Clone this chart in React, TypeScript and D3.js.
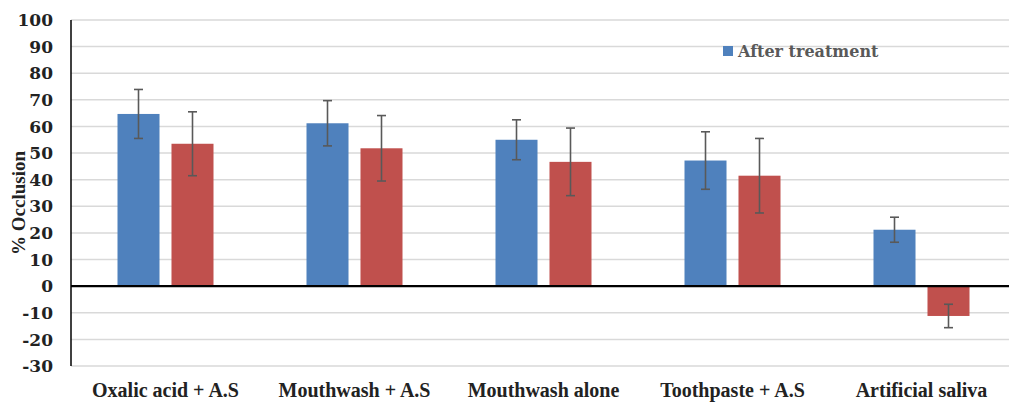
import React, { useEffect, useRef } from "react";
import * as d3 from "d3";

const categories = [
  "Oxalic acid + A.S",
  "Mouthwash + A.S",
  "Mouthwash alone",
  "Toothpaste + A.S",
  "Artificial saliva",
];
const afterValues = [64.7, 61.2, 55.0, 47.2, 21.2];
const afterErrors = [9.2, 8.5, 7.5, 10.8, 4.7];
const secondValues = [53.5, 51.8, 46.7, 41.5, -11.2];
const secondErrors = [12.0, 12.3, 12.7, 14.0, 4.4];
const yTicks = [-30, -20, -10, 0, 10, 20, 30, 40, 50, 60, 70, 80, 90, 100];

const App = () => {
  const ref = useRef(null);

  useEffect(() => {
    const width = 1009;
    const height = 403;
    const left = 71;
    const right = 1016;
    const top = 20;
    const bottom = 366;

    d3.select(ref.current).select("svg").remove();
    const svg = d3
      .select(ref.current)
      .append("svg")
      .attr("width", width)
      .attr("height", height)
      .style("display", "block");

    const y = d3.scaleLinear().domain([-30, 100]).range([bottom, top]);
    const x0 = d3.scaleBand().domain(categories).range([left, right]);
    const x1 = d3
      .scaleBand()
      .domain(["after", "other"])
      .range([0, 96])
      .paddingInner(0.222);

    // gridlines
    svg
      .append("g")
      .selectAll("line")
      .data(yTicks)
      .enter()
      .append("line")
      .attr("x1", left)
      .attr("x2", width)
      .attr("y1", (d) => y(d))
      .attr("y2", (d) => y(d))
      .attr("stroke", "#d9d9d9")
      .attr("stroke-width", 1.5);

    // tick labels
    svg
      .append("g")
      .selectAll("text")
      .data(yTicks)
      .enter()
      .append("text")
      .attr("x", 53)
      .attr("y", (d) => y(d))
      .attr("dy", "0.36em")
      .attr("text-anchor", "end")
      .style("font-family", "'DejaVu Serif'")
      .style("font-weight", "bold")
      .style("font-size", "17px")
      .attr("fill", "#222")
      .text((d) => d);

    const series = [
      { key: "after", values: afterValues, errors: afterErrors, color: "#4f81bd" },
      { key: "other", values: secondValues, errors: secondErrors, color: "#c0504d" },
    ];

    series.forEach((s) => {
      const g = svg.append("g");
      const bx = (i) => x0(categories[i]) + (x0.bandwidth() - 96) / 2 + x1(s.key);
      g.selectAll("rect")
        .data(s.values)
        .enter()
        .append("rect")
        .attr("x", (d, i) => bx(i))
        .attr("width", x1.bandwidth())
        .attr("y", (d) => y(Math.max(0, d)))
        .attr("height", (d) => Math.abs(y(d) - y(0)))
        .attr("fill", s.color);

      // error bars
      const eb = g
        .selectAll("g.err")
        .data(s.values)
        .enter()
        .append("g")
        .attr("stroke", "#595959")
        .attr("stroke-width", 1.6);
      eb.append("line")
        .attr("x1", (d, i) => bx(i) + x1.bandwidth() / 2)
        .attr("x2", (d, i) => bx(i) + x1.bandwidth() / 2)
        .attr("y1", (d, i) => y(d + s.errors[i]))
        .attr("y2", (d, i) => y(d - s.errors[i]));
      [1, -1].forEach((sign) => {
        eb.append("line")
          .attr("x1", (d, i) => bx(i) + x1.bandwidth() / 2 - 4.5)
          .attr("x2", (d, i) => bx(i) + x1.bandwidth() / 2 + 4.5)
          .attr("y1", (d, i) => y(d + sign * s.errors[i]))
          .attr("y2", (d, i) => y(d + sign * s.errors[i]));
      });
    });

    // zero line and y axis
    svg
      .append("line")
      .attr("x1", left)
      .attr("x2", width)
      .attr("y1", y(0))
      .attr("y2", y(0))
      .attr("stroke", "#000")
      .attr("stroke-width", 2.2);
    svg
      .append("line")
      .attr("x1", left)
      .attr("x2", left)
      .attr("y1", top)
      .attr("y2", bottom)
      .attr("stroke", "#000")
      .attr("stroke-width", 1.5);

    // category labels
    svg
      .append("g")
      .selectAll("text")
      .data(categories)
      .enter()
      .append("text")
      .attr("x", (d) => x0(d) + x0.bandwidth() / 2)
      .attr("y", 397)
      .attr("text-anchor", "middle")
      .style("font-family", "'Liberation Serif'")
      .style("font-weight", "bold")
      .style("font-size", "20px")
      .attr("fill", "#222")
      .text((d) => d);

    // y title
    svg
      .append("text")
      .attr("transform", "translate(25,203) rotate(-90)")
      .attr("text-anchor", "middle")
      .style("font-family", "'Liberation Serif'")
      .style("font-weight", "bold")
      .style("font-size", "19px")
      .attr("fill", "#222")
      .text("% Occlusion");

    // legend
    svg
      .append("rect")
      .attr("x", 723)
      .attr("y", 46)
      .attr("width", 10)
      .attr("height", 10)
      .attr("fill", "#4f81bd");
    svg
      .append("text")
      .attr("x", 738)
      .attr("y", 57)
      .style("font-family", "'DejaVu Serif'")
      .style("font-weight", "bold")
      .style("font-size", "16px")
      .attr("fill", "#595959")
      .text("After treatment");
  }, []);

  return (
    <div
      ref={ref}
      style={{ position: "absolute", left: 0, top: 0, width: 1009, height: 403, overflow: "hidden" }}
    ></div>
  );
};

export default App;
